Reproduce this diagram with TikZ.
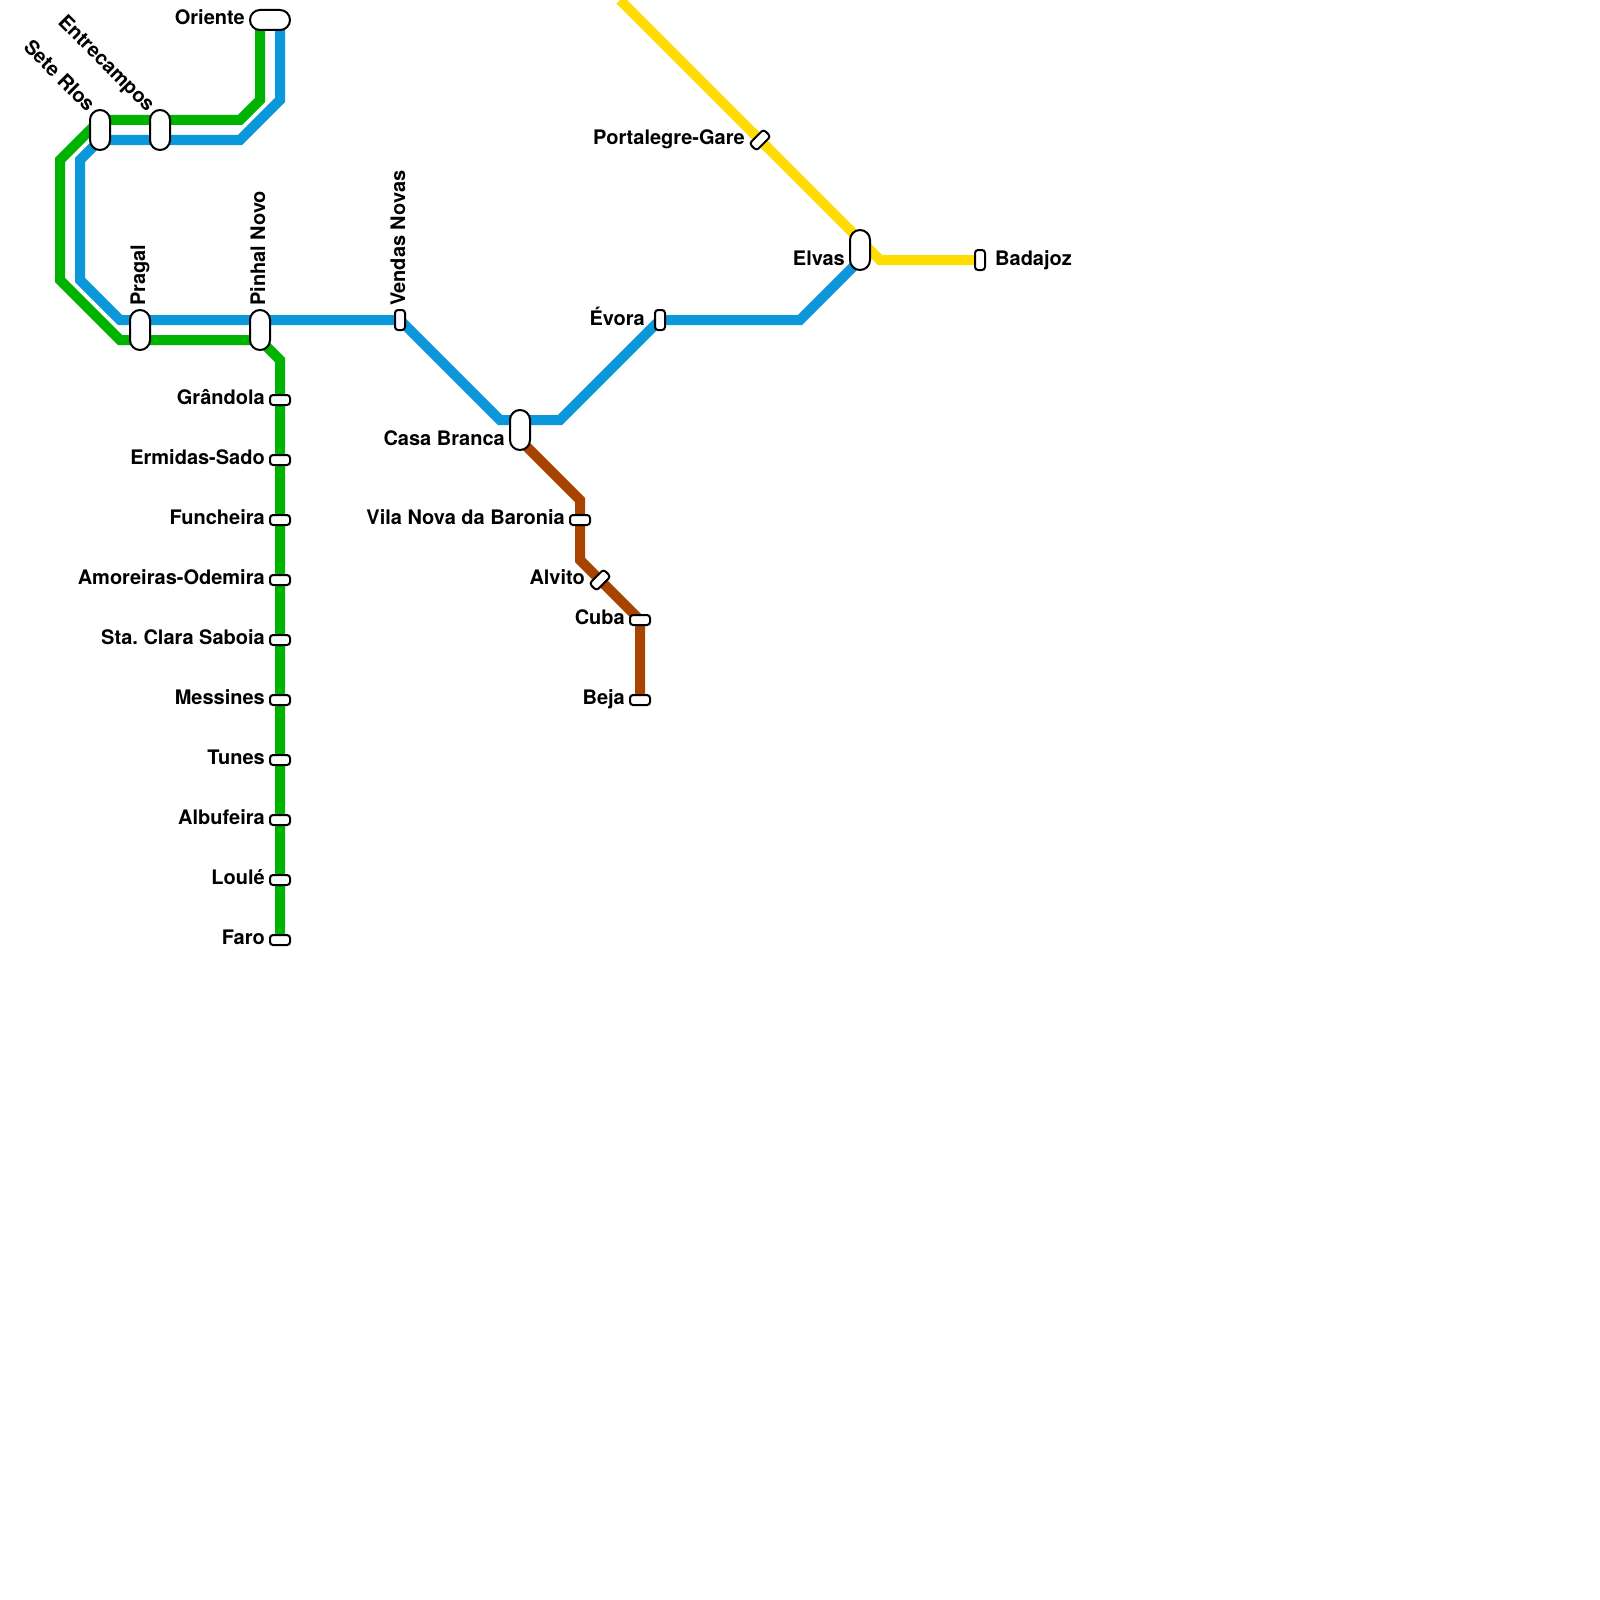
\documentclass[tikz,border=0pt]{standalone}
\usepackage{fontspec}
\setmainfont{TeX Gyre Heros}
\usetikzlibrary{backgrounds}
\definecolor{lgreen}{HTML}{00B300}
\definecolor{lblue}{HTML}{0A98DA}
\definecolor{lyellow}{HTML}{FFDD00}
\definecolor{lbrown}{HTML}{A84300}
\frenchspacing
\tikzset{
  railway/.style={line width=10pt,line join=miter,line cap=butt},
  stnbase/.style={draw=black,fill=white,line width=2pt,inner sep=0pt,outer sep=0pt},
  hsmall/.style={stnbase,minimum width=20pt,minimum height=10pt,rounded corners=3pt},
  vsmall/.style={stnbase,minimum width=10pt,minimum height=20pt,rounded corners=3pt},
  vlarge/.style={stnbase,minimum width=20pt,minimum height=40pt,rounded corners=10pt},
  hlarge/.style={stnbase,minimum width=40pt,minimum height=20pt,rounded corners=10pt},
  lbl/.style={font=\fontsize{20pt}{24pt}\selectfont\bfseries,inner sep=0pt,text=black},
  lleft/.style={lbl,anchor=base east},
  lright/.style={lbl,anchor=base west},
  lup/.style={lbl,anchor=base west,rotate=90},
  ldiag/.style={lbl,anchor=base east,rotate=-45},
}
\begin{document}
\begin{tikzpicture}[x=1pt,y=-1pt]
\useasboundingbox (0,0) rectangle (1600,1600);
% stations
\node[hlarge] (oriente) at (270,20) {};
\node[vlarge] (seterios) at (100,130) {};
\node[vlarge] (entrecampos) at (160,130) {};
\node[vlarge] (pragal) at (140,330) {};
\node[vlarge] (pinhal) at (260,330) {};
\node[hsmall] (grandola) at (280,400) {};
\node[hsmall] (ermidas) at (280,460) {};
\node[hsmall] (funcheira) at (280,520) {};
\node[hsmall] (amoreiras) at (280,580) {};
\node[hsmall] (clara) at (280,640) {};
\node[hsmall] (messines) at (280,700) {};
\node[hsmall] (tunes) at (280,760) {};
\node[hsmall] (albufeira) at (280,820) {};
\node[hsmall] (loule) at (280,880) {};
\node[hsmall] (faro) at (280,940) {};
\node[vsmall] (vendas) at (400,320) {};
\node[vlarge] (casabranca) at (520,430) {};
\node[hsmall] (vilanova) at (580,520) {};
\node[hsmall,rotate=45] (alvito) at (600,580) {};
\node[hsmall] (cuba) at (640,620) {};
\node[hsmall] (beja) at (640,700) {};
\node[vsmall] (evora) at (660,320) {};
\node[hsmall,rotate=45] (portalegre) at (760,140) {};
\node[vlarge] (elvas) at (860,250) {};
\node[vsmall] (badajoz) at (980,260) {};
% free ends and bends
\coordinate (yellowtop) at (620,0);
% lines behind the stations
\begin{pgfonlayer}{background}
\draw[railway,lgreen] (260,20) -- (260,100) -- (240,120) -- (100,120) -- (60,160) -- (60,280) -- (120,340) -- (260,340) -- (280,360) -- (faro.center);
\draw[railway,lblue] (280,20) -- (280,100) -- (240,140) -- (100,140) -- (80,160) -- (80,280) -- (120,320) -- (vendas.center) -- (500,420) -- (560,420) -- (evora.center) -- (800,320) -- (860,260);
\draw[railway,lyellow] (yellowtop) -- (portalegre.center) -- (880,260) -- (badajoz.center);
\draw[railway,lbrown] (520,440) -- (580,500) -- (vilanova.center) -- (580,560) -- (alvito.center) -- (cuba.center) -- (beja.center);
\end{pgfonlayer}
% labels
\node[lleft] (l1) at (245,25) {Oriente};
\node[ldiag] (l2) at (87,113) {Sete RIos};
\node[ldiag] (l3) at (147,113) {Entrecampos};
\node[lup] (l4) at (145,306) {Pragal};
\node[lup] (l5) at (265,306) {Pinhal Novo};
\node[lup] (l6) at (405,306) {Vendas Novas};
\node[lleft] (l7) at (265,404.5) {Grândola};
\node[lleft] (l8) at (265,464.5) {Ermidas-Sado};
\node[lleft] (l9) at (265,524.5) {Funcheira};
\node[lleft] (l10) at (265,584.5) {Amoreiras-Odemira};
\node[lleft] (l11) at (265,644.5) {Sta. Clara Saboia};
\node[lleft] (l12) at (265,704.5) {Messines};
\node[lleft] (l13) at (265,764.5) {Tunes};
\node[lleft] (l14) at (265,824.5) {Albufeira};
\node[lleft] (l15) at (265,884.5) {Loulé};
\node[lleft] (l16) at (265,944.5) {Faro};
\node[lleft] (l17) at (505,445) {Casa Branca};
\node[lleft] (l18) at (565,524.5) {Vila Nova da Baronia};
\node[lleft] (l19) at (585,584.5) {Alvito};
\node[lleft] (l20) at (625,624.5) {Cuba};
\node[lleft] (l21) at (625,704.5) {Beja};
\node[lleft] (l22) at (645,325) {Évora};
\node[lleft] (l23) at (745,145) {Portalegre-Gare};
\node[lleft] (l24) at (845,265) {Elvas};
\node[lright] (l25) at (995,265) {Badajoz};
\end{tikzpicture}
\end{document}
